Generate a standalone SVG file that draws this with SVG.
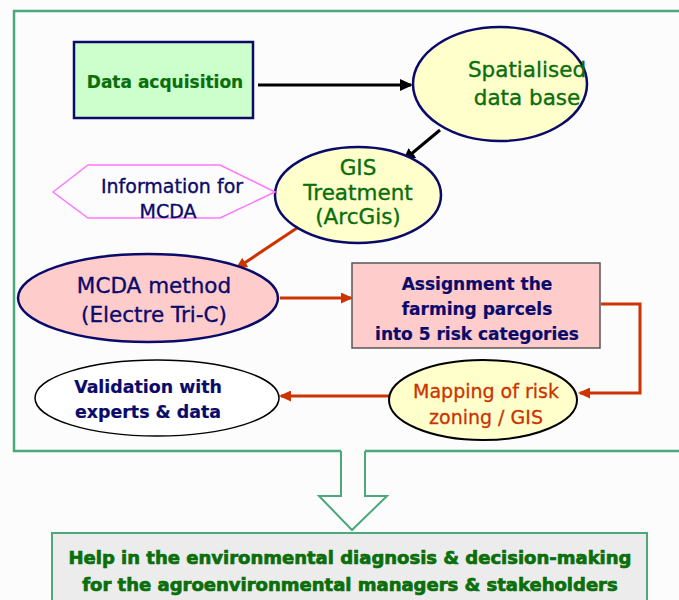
<svg xmlns="http://www.w3.org/2000/svg" width="679" height="600" viewBox="0 0 679 600">
<defs>
<style>
text{font-family:"DejaVu Sans","Verdana",sans-serif;text-anchor:middle}
.green{fill:#0a6e0a;stroke:#0a6e0a;stroke-width:0.35}
.navy{fill:#0a0a6a;stroke:#0a0a6a;stroke-width:0.35}
.red{fill:#cc3300;stroke:#cc3300;stroke-width:0.3}
.b{font-weight:bold;stroke-width:0.2}
.frame{fill:none;stroke:#4aa87a;stroke-width:2.5}
.blk{stroke:#000;stroke-width:3;fill:none}
.rd{stroke:#cc3300;stroke-width:3;fill:none}
</style>
<marker id="ab" markerWidth="13" markerHeight="12" refX="11" refY="6" orient="auto" markerUnits="userSpaceOnUse"><path d="M0,0 L13,6 L0,12 Z" fill="#000"/></marker>
<marker id="ar" markerWidth="12" markerHeight="11" refX="10" refY="5.5" orient="auto" markerUnits="userSpaceOnUse"><path d="M0,0 L12,5.5 L0,11 Z" fill="#cc3300"/></marker>
</defs>
<rect width="679" height="600" fill="#fcfcfd"/>
<path class="frame" d="M341,451 L14,451 L14,11 L690,11 M690,451 L365,451"/>
<g id="connectors">
<line class="blk" x1="258" y1="85" x2="411" y2="85" marker-end="url(#ab)"/>
<line class="blk" x1="440" y1="130" x2="404" y2="160" marker-end="url(#ab)"/>
<line class="rd" x1="300" y1="226" x2="237" y2="268" marker-end="url(#ar)"/>
<line class="rd" x1="280" y1="298" x2="351" y2="298" marker-end="url(#ar)"/>
<polyline class="rd" points="601,304 640,304 640,393 580,393" marker-end="url(#ar)"/>
<line class="rd" x1="390" y1="396" x2="281" y2="396" marker-end="url(#ar)"/>
<path d="M341,451 L341,496 L319,496 L352,530 L387,496 L365,496 L365,451" fill="#fcfcfd" stroke="#4aa87a" stroke-width="2"/>
</g>
<g id="data-acquisition">
<rect x="74" y="42" width="179" height="76" fill="#ccffcc" stroke="#0a0a6a" stroke-width="2.5"/>
<text class="green b" x="165" y="88" font-size="17">Data acquisition</text>
</g>
<g id="spatialised">
<ellipse cx="500" cy="84" rx="87" ry="57" fill="#ffffcc" stroke="#0a0a6a" stroke-width="2.5"/>
<text class="green" x="527" y="77" font-size="21.5">Spatialised</text>
<text class="green" x="527" y="105" font-size="21.5">data base</text>
</g>
<g id="gis">
<ellipse cx="358" cy="195" rx="83" ry="48" fill="#ffffcc" stroke="#0a0a6a" stroke-width="2.5"/>
<text class="green" x="358" y="175" font-size="21.5">GIS</text>
<text class="green" x="358" y="200" font-size="21.5">Treatment</text>
<text class="green" x="358" y="224" font-size="21.5">(ArcGis)</text>
</g>
<g id="information">
<polygon points="53,192 88,165 220,165 275,192 220,218 88,218" fill="#fcfcfd" stroke="#ff77ff" stroke-width="1.5"/>
<text class="navy" x="172" y="193" font-size="19">Information for</text>
<text class="navy" x="168" y="218" font-size="19">MCDA</text>
</g>
<g id="mcda">
<ellipse cx="148" cy="298" rx="130" ry="44" fill="#ffcccc" stroke="#0a0a6a" stroke-width="2.5"/>
<text class="navy" x="154" y="293" font-size="21.5">MCDA method</text>
<text class="navy" x="154" y="322" font-size="21.5">(Electre Tri-C)</text>
</g>
<g id="assignment">
<rect x="352" y="263" width="248" height="85" fill="#ffcccc" stroke="#555" stroke-width="1.5"/>
<text class="navy b" x="477" y="290" font-size="17">Assignment the</text>
<text class="navy b" x="477" y="315" font-size="17">farming parcels</text>
<text class="navy b" x="477" y="340" font-size="17">into 5 risk categories</text>
</g>
<g id="mapping">
<ellipse cx="483" cy="400" rx="94" ry="40" fill="#ffffcc" stroke="#000" stroke-width="2"/>
<text class="red" x="486" y="398" font-size="19">Mapping of risk</text>
<text class="red" x="486" y="424" font-size="19">zoning / GIS</text>
</g>
<g id="validation">
<ellipse cx="157" cy="398" rx="122" ry="38" fill="#ffffff" stroke="#000" stroke-width="1.5"/>
<text class="navy b" x="148" y="393" font-size="17.4">Validation with</text>
<text class="navy b" x="148" y="418" font-size="17.4">experts &amp; data</text>
</g>
<g id="help">
<rect x="52" y="533" width="595" height="80" fill="#ececec" stroke="#4aa87a" stroke-width="2"/>
<text class="green b" x="350" y="564" font-size="18" stroke="#0a4a0a" style="stroke-width:0.7">Help in the environmental diagnosis &amp; decision-making</text>
<text class="green b" x="350" y="591" font-size="18" stroke="#0a4a0a" style="stroke-width:0.7">for the agroenvironmental managers &amp; stakeholders</text>
</g>
</svg>
